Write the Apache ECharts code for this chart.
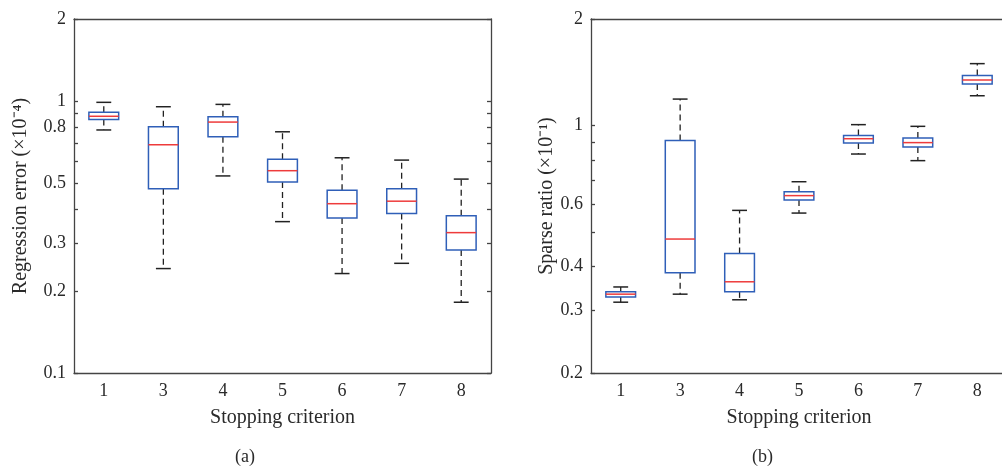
<!DOCTYPE html>
<html>
<head>
    <meta charset="utf-8">
    <script type="text/javascript" src="https://cdn.jsdelivr.net/npm/echarts@6/dist/echarts.min.js"></script>
    <style type="text/css">
        *{
            margin: 0;
            padding: 0;
        }
        #main{
            width: 1002px;
            height: 473px;
            background: #fff;
        }
    </style>
</head>
<body>
<div id="main"></div>
<script type="text/javascript">
    // stopping criteria on the x axis
    var categories = ['1', '3', '4', '5', '6', '7', '8'];

    // (a) regression error, x1e-4 : lower whisker, q1, median, q3, upper whisker
    var errLow  = [0.782, 0.242, 0.530, 0.360, 0.232, 0.253, 0.182];
    var errQ1   = [0.855, 0.476, 0.739, 0.503, 0.371, 0.386, 0.283];
    var errMed  = [0.878, 0.690, 0.836, 0.554, 0.419, 0.428, 0.328];
    var errQ3   = [0.908, 0.804, 0.875, 0.610, 0.470, 0.476, 0.378];
    var errHigh = [0.988, 0.952, 0.971, 0.770, 0.618, 0.606, 0.516];

    // (b) sparse ratio, x1e-1
    var spLow  = [0.317, 0.334, 0.322, 0.566, 0.831, 0.796, 1.214];
    var spQ1   = [0.328, 0.384, 0.339, 0.616, 0.893, 0.870, 1.311];
    var spMed  = [0.334, 0.478, 0.362, 0.634, 0.918, 0.895, 1.345];
    var spQ3   = [0.339, 0.908, 0.435, 0.650, 0.938, 0.922, 1.384];
    var spHigh = [0.350, 1.188, 0.576, 0.694, 1.006, 0.995, 1.496];

    // tick marks and labelled ticks of the log axes
    var errTicks  = [0.1, 0.2, 0.3, 0.4, 0.5, 0.6, 0.7, 0.8, 0.9, 1, 2];
    var errLabels = [0.1, 0.2, 0.3, 0.5, 0.8, 1, 2];
    var spTicks   = [0.2, 0.3, 0.4, 0.5, 0.6, 0.7, 0.8, 0.9, 1, 2];
    var spLabels  = [0.2, 0.3, 0.4, 0.6, 1, 2];

    var FONT = 'Liberation Serif';
    var AXIS_COLOR = '#444';
    var TEXT_COLOR = '#2a2a2a';

    function boxData(lo, q1, med, q3, hi) {
        return categories.map(function (c, i) {
            return [i, lo[i], q1[i], med[i], q3[i], hi[i]];
        });
    }

    // matlab-like box: blue box, red median, black dashed whiskers
    function renderBox(params, api) {
        var x = api.value(0);
        var band = api.size([1, 1])[0];
        var half = band * 0.25;
        var cap = band * 0.125;
        var pLo = api.coord([x, api.value(1)]);
        var pQ1 = api.coord([x, api.value(2)]);
        var pMed = api.coord([x, api.value(3)]);
        var pQ3 = api.coord([x, api.value(4)]);
        var pHi = api.coord([x, api.value(5)]);
        var cx = pMed[0];
        var dash = {stroke: '#222', lineWidth: 1.3, lineDash: [6, 4], fill: null};
        var solid = {stroke: '#222', lineWidth: 1.5, fill: null};
        return {
            type: 'group',
            children: [
                {type: 'line', shape: {x1: cx, y1: pQ3[1], x2: cx, y2: pHi[1]}, style: dash},
                {type: 'line', shape: {x1: cx, y1: pQ1[1], x2: cx, y2: pLo[1]}, style: dash},
                {type: 'line', shape: {x1: cx - cap, y1: pHi[1], x2: cx + cap, y2: pHi[1]}, style: solid},
                {type: 'line', shape: {x1: cx - cap, y1: pLo[1], x2: cx + cap, y2: pLo[1]}, style: solid},
                {type: 'rect', shape: {x: cx - half, y: pQ3[1], width: half * 2, height: pQ1[1] - pQ3[1]},
                    style: {stroke: '#2f5fb8', lineWidth: 1.5, fill: '#fff'}},
                {type: 'line', shape: {x1: cx - half, y1: pMed[1], x2: cx + half, y2: pMed[1]},
                    style: {stroke: '#ee3b3b', lineWidth: 1.5}}
            ]
        };
    }

    function xAxes(gridIndex) {
        return [
            {
                type: 'category', gridIndex: gridIndex, data: categories, position: 'bottom',
                name: 'Stopping criterion', nameLocation: 'middle', nameGap: 35,
                nameTextStyle: {fontFamily: FONT, fontSize: 20, color: TEXT_COLOR},
                axisLine: {lineStyle: {color: AXIS_COLOR, width: 1.3}},
                axisTick: {inside: true, alignWithLabel: true, length: 4, lineStyle: {color: AXIS_COLOR, width: 1.3}},
                axisLabel: {fontFamily: FONT, fontSize: 18, color: TEXT_COLOR, margin: 9},
                splitLine: {show: false}
            },
            {
                type: 'category', gridIndex: gridIndex, data: categories, position: 'top',
                axisLine: {lineStyle: {color: AXIS_COLOR, width: 1.3}},
                axisTick: {inside: true, alignWithLabel: true, length: 4, lineStyle: {color: AXIS_COLOR, width: 1.3}},
                axisLabel: {show: false},
                splitLine: {show: false}
            }
        ];
    }

    function yAxes(gridIndex, min, max, ticks, labels, name, nameGap) {
        return [
            {
                type: 'log', logBase: 10, gridIndex: gridIndex, min: min, max: max, position: 'left',
                name: name, nameLocation: 'middle', nameGap: nameGap, nameRotate: 90,
                nameTextStyle: {fontFamily: FONT, fontSize: 20, color: TEXT_COLOR},
                axisLine: {show: true, lineStyle: {color: AXIS_COLOR, width: 1.3}},
                axisTick: {show: true, inside: true, length: 4, customValues: ticks, lineStyle: {color: AXIS_COLOR, width: 1.3}},
                axisLabel: {fontFamily: FONT, fontSize: 18, color: TEXT_COLOR, margin: 8, customValues: labels},
                splitLine: {show: false}
            },
            {
                type: 'log', logBase: 10, gridIndex: gridIndex, min: min, max: max, position: 'right',
                axisLine: {show: true, lineStyle: {color: AXIS_COLOR, width: 1.3}},
                axisTick: {show: true, inside: true, length: 4, customValues: ticks, lineStyle: {color: AXIS_COLOR, width: 1.3}},
                axisLabel: {show: false},
                splitLine: {show: false}
            }
        ];
    }

    var myChart = echarts.init(document.getElementById('main'));
    var option = {
        backgroundColor: '#ffffff',
        animation: false,
        grid: [
            {left: 74, top: 19, width: 417, height: 354, outerBoundsMode: 'none'},
            {left: 591, top: 19, width: 416, height: 354, outerBoundsMode: 'none'}
        ],
        xAxis: xAxes(0).concat(xAxes(1)),
        yAxis: yAxes(0, 0.1, 2, errTicks, errLabels, 'Regression error (×10⁻⁴)', 43)
            .concat(yAxes(1, 0.2, 2, spTicks, spLabels, 'Sparse ratio (×10⁻¹)', 28)),
        graphic: [
            {type: 'text', left: 235, top: 448, style: {text: '(a)', font: '18px "Liberation Serif"', fill: TEXT_COLOR}},
            {type: 'text', left: 752, top: 448, style: {text: '(b)', font: '18px "Liberation Serif"', fill: TEXT_COLOR}}
        ],
        series: [
            {
                type: 'custom', xAxisIndex: 0, yAxisIndex: 0, clip: false,
                renderItem: renderBox,
                encode: {x: 0, y: [1, 2, 3, 4, 5]},
                data: boxData(errLow, errQ1, errMed, errQ3, errHigh)
            },
            {
                type: 'custom', xAxisIndex: 2, yAxisIndex: 2, clip: false,
                renderItem: renderBox,
                encode: {x: 0, y: [1, 2, 3, 4, 5]},
                data: boxData(spLow, spQ1, spMed, spQ3, spHigh)
            }
        ]
    };
    myChart.setOption(option);
</script>
</body>
</html>
